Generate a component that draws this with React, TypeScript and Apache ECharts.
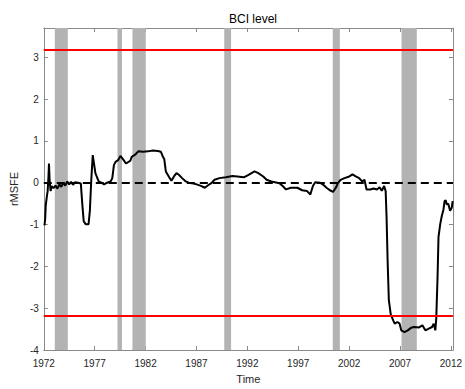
import React, { useEffect, useRef } from "react";
import * as echarts from "echarts";

// Decimal year of each observation
const years = [
  1972.07, 1972.14, 1972.19, 1972.29, 1972.38, 1972.46, 1972.51, 1972.57, 1972.67, 1972.77,
  1972.96, 1973.15, 1973.34, 1973.53, 1973.72, 1973.91, 1974.11, 1974.3, 1974.49, 1974.68,
  1974.87, 1975.06, 1975.35, 1975.64, 1975.78, 1975.92, 1976.11, 1976.4, 1976.53, 1976.66,
  1976.81, 1977.07, 1977.39, 1977.65, 1977.93, 1978.22, 1978.57, 1978.73, 1978.89, 1979.05,
  1979.3, 1979.53, 1979.85, 1980.07, 1980.49, 1980.64, 1980.97, 1981.28, 1981.76, 1982.24,
  1982.72, 1983.2, 1983.51, 1983.67, 1983.84, 1983.99, 1984.32, 1984.54, 1984.79, 1985.04,
  1985.27, 1985.59, 1985.9, 1986.23, 1986.71, 1987.02, 1987.5, 1987.82, 1988.14, 1988.46,
  1988.78, 1989.25, 1989.89, 1990.54, 1991.01, 1991.65, 1992.12, 1992.7, 1993.08, 1993.56,
  1993.89, 1994.36, 1995.16, 1995.47, 1995.8, 1996.28, 1996.91, 1997.39, 1997.87, 1998.19,
  1998.44, 1998.67, 1999.15, 1999.46, 1999.78, 2000.11, 2000.42, 2000.74, 2000.9, 2001.16,
  2001.54, 2002.02, 2002.33, 2002.65, 2002.98, 2003.29, 2003.51, 2003.71, 2004.09, 2004.41,
  2004.73, 2004.99, 2005.21, 2005.44, 2005.59, 2005.68, 2005.78, 2005.9, 2006.09, 2006.33,
  2006.48, 2006.74, 2006.96, 2007.12, 2007.44, 2007.76, 2008.08, 2008.39, 2008.87, 2009.2,
  2009.35, 2009.51, 2009.83, 2010.15, 2010.31, 2010.47, 2010.56, 2010.69, 2010.78, 2010.95,
  2011.11, 2011.26, 2011.38, 2011.49, 2011.59, 2011.74, 2011.92, 2012.08, 2012.17,
];

// Relative MSFE of the BCI level model
const rmsfe = [
  -1.02, -0.85, -0.55, -0.35, -0.2, 0.15, 0.46, 0.07, -0.2, -0.08,
  -0.13, -0.07, -0.14, -0.04, -0.1, 0.0, -0.07, 0.03, -0.04, 0.02,
  -0.05, 0.01, 0.0, -0.02, -0.5, -0.92, -0.99, -0.99, -0.66, 0.04,
  0.66, 0.23, 0.03, 0.0, -0.04, 0.0, 0.03, 0.11, 0.42, 0.5,
  0.54, 0.64, 0.54, 0.46, 0.52, 0.62, 0.67, 0.75, 0.74, 0.75,
  0.77, 0.76, 0.74, 0.64, 0.56, 0.27, 0.13, 0.05, 0.15, 0.23,
  0.19, 0.11, 0.04, 0.0, -0.02, -0.04, -0.08, -0.12, -0.06, -0.01,
  0.07, 0.11, 0.13, 0.16, 0.15, 0.13, 0.19, 0.27, 0.23, 0.15,
  0.07, 0.03, -0.01, -0.08, -0.16, -0.12, -0.12, -0.18, -0.2, -0.28,
  -0.08, 0.01, 0.0, -0.05, -0.12, -0.18, -0.22, -0.1, -0.01, 0.07,
  0.11, 0.15, 0.2, 0.15, 0.11, 0.03, 0.07, -0.16, -0.16, -0.14,
  -0.16, -0.11, -0.19, -0.08, -0.2, -0.83, -1.85, -2.8, -3.15, -3.29,
  -3.37, -3.33, -3.37, -3.53, -3.57, -3.53, -3.47, -3.45, -3.46, -3.41,
  -3.47, -3.53, -3.49, -3.45, -3.37, -3.53, -3.25, -2.24, -1.3, -0.99,
  -0.79, -0.65, -0.44, -0.42, -0.52, -0.5, -0.67, -0.6, -0.44,
];

// Recession periods (start, end)
const recessionStart = [1973.08, 1979.24, 1980.71, 1989.73, 2000.39, 2007.15];
const recessionEnd = [1974.36, 1979.68, 1982.02, 1990.4, 2001.09, 2008.65];

// Critical bounds and reference level
const bounds = [3.19, -3.19];
const reference = 0;

const X_MIN = 1972;
const X_MAX = 2012.2;
const Y_MIN = -4;
const Y_MAX = 3.7;

const FONT = "'Liberation Sans', Arial, sans-serif";
const AXIS_GREY = "#8a8a8a";

export default function App() {
  const ref = useRef<HTMLDivElement>(null);

  useEffect(() => {
    document.body.style.margin = "0";
    if (!ref.current) return;
    const chart = echarts.init(ref.current, undefined, { renderer: "svg" });

    const points = years.map((y, i) => [y, rmsfe[i]]);
    const bands = recessionStart.map((s, i) => [
      { xAxis: s, itemStyle: { color: "#b3b3b3" } },
      { xAxis: recessionEnd[i] },
    ]);

    const tickFmt = (v: number) =>
      Math.abs((v - X_MIN) % 5) < 1e-6 ? String(Math.round(v)) : "";
    const yFmt = (v: number) => (Math.abs(v - Math.round(v)) < 1e-6 ? String(Math.round(v)) : "");

    const xCommon = {
      type: "value" as const,
      min: X_MIN,
      max: X_MAX,
      interval: 5,
      splitLine: { show: false },
      axisLine: { show: true, onZero: false, lineStyle: { color: AXIS_GREY, width: 1 } },
      axisTick: { show: true, inside: true, length: 4, lineStyle: { color: AXIS_GREY } },
    };
    const yCommon = {
      type: "value" as const,
      min: Y_MIN,
      max: Y_MAX,
      interval: 1,
      splitLine: { show: false },
      axisLine: { show: true, onZero: false, lineStyle: { color: AXIS_GREY, width: 1 } },
      axisTick: { show: true, inside: true, length: 4, lineStyle: { color: AXIS_GREY } },
    };

    chart.setOption({
      animation: false,
      backgroundColor: "#ffffff",
      title: {
        text: "BCI level",
        left: 248,
        textAlign: "center",
        top: 8,
        textStyle: { fontFamily: FONT, fontSize: 12, fontWeight: "normal", color: "#000" },
      },
      grid: { left: 38, right: 7, top: 28, bottom: 33 },
      xAxis: [
        {
          ...xCommon,
          position: "bottom",
          name: "Time",
          nameLocation: "middle",
          nameGap: 23,
          nameTextStyle: { fontFamily: FONT, fontSize: 11, color: "#262626" },
          axisLabel: {
            formatter: tickFmt,
            fontFamily: FONT,
            fontSize: 10,
            color: "#262626",
            margin: 8,
          },
        },
        { ...xCommon, position: "top", axisLabel: { show: false } },
      ],
      yAxis: [
        {
          ...yCommon,
          position: "left",
          name: "rMSFE",
          nameLocation: "middle",
          nameGap: 17,
          nameTextStyle: { fontFamily: FONT, fontSize: 11, color: "#262626" },
          axisLabel: {
            formatter: yFmt,
            fontFamily: FONT,
            fontSize: 10,
            color: "#262626",
            margin: 5,
          },
        },
        { ...yCommon, position: "right", axisLabel: { show: false } },
      ],
      series: [
        {
          name: "recessions",
          type: "line",
          data: [],
          silent: true,
          z: 1,
          markArea: { silent: true, data: bands },
        },
        {
          name: "rMSFE",
          type: "line",
          data: points,
          showSymbol: false,
          symbol: "none",
          z: 3,
          lineStyle: { color: "#000", width: 2 },
          markLine: {
            silent: true,
            symbol: "none",
            label: { show: false },
            data: [
              { yAxis: reference, lineStyle: { color: "#000", width: 2, type: [8, 5] } },
            ],
          },
        },
        {
          name: "bounds",
          type: "line",
          data: [],
          z: 4,
          markLine: {
            silent: true,
            symbol: "none",
            label: { show: false },
            data: bounds.map((b) => ({
              yAxis: b,
              lineStyle: { color: "#ff0000", width: 2, type: "solid" },
            })),
          },
        },
      ],
    });

    return () => chart.dispose();
  }, []);

  return <div ref={ref} style={{ width: 465, height: 389 }} />;
}
